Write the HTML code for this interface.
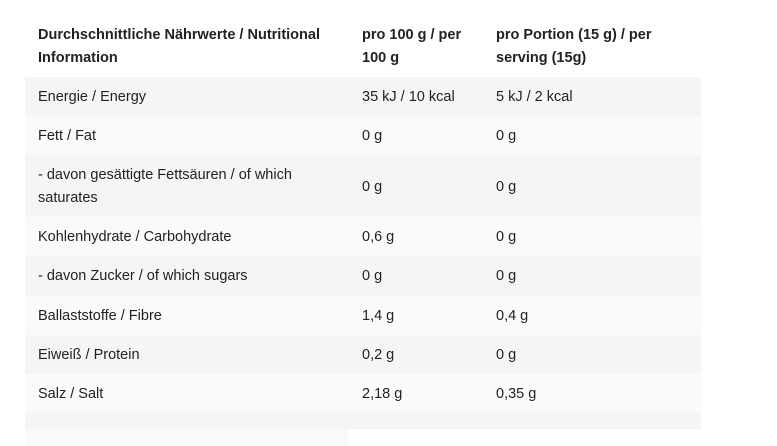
<!DOCTYPE html>
<html><head><meta charset="utf-8"><style>
body{margin:0;width:777px;height:446px;background:#fff;position:relative;overflow:hidden;font-family:"Liberation Sans","DejaVu Sans",sans-serif;font-size:14.5px;color:#222}
.r{position:absolute;left:25px;width:676px}
.t{position:absolute;line-height:23px;white-space:nowrap}
.h{font-weight:bold;font-size:14.5px}
</style></head><body>
<div class="t h" style="left:38px;top:24px">Durchschnittliche Nährwerte / Nutritional<br>Information</div>
<div class="t h" style="left:362px;top:24px">pro 100 g / per<br>100 g</div>
<div class="t h" style="left:496px;top:24px">pro Portion (15 g) / per<br>serving (15g)</div>

<div class="r" style="top:77px;height:39px;background:#f5f5f5"></div>
<div class="r" style="top:116px;height:39px;background:#fafafa"></div>
<div class="r" style="top:155px;height:62px;background:#f5f5f5"></div>
<div class="r" style="top:217px;height:39px;background:#fafafa"></div>
<div class="r" style="top:256px;height:39px;background:#f5f5f5"></div>
<div class="r" style="top:295px;height:40px;background:#fafafa"></div>
<div class="r" style="top:335px;height:39px;background:#f5f5f5"></div>
<div class="r" style="top:374px;height:39px;background:#fafafa"></div>
<div class="r" style="top:413px;height:16px;background:#f5f5f5"></div>
<div style="position:absolute;left:25px;top:429px;width:323px;height:17px;background:#fafafa"></div>

<div class="t" style="left:38px;top:86px">Energie / Energy</div><div class="t" style="left:362px;top:86px">35 kJ / 10 kcal</div><div class="t" style="left:496px;top:86px">5 kJ / 2 kcal</div>
<div class="t" style="left:38px;top:125px">Fett / Fat</div><div class="t" style="left:362px;top:125px">0 g</div><div class="t" style="left:496px;top:125px">0 g</div>
<div class="t" style="left:38px;top:164px">- davon gesättigte Fettsäuren / of which<br>saturates</div><div class="t" style="left:362px;top:176px">0 g</div><div class="t" style="left:496px;top:176px">0 g</div>
<div class="t" style="left:38px;top:226px">Kohlenhydrate / Carbohydrate</div><div class="t" style="left:362px;top:226px">0,6 g</div><div class="t" style="left:496px;top:226px">0 g</div>
<div class="t" style="left:38px;top:265px">- davon Zucker / of which sugars</div><div class="t" style="left:362px;top:265px">0 g</div><div class="t" style="left:496px;top:265px">0 g</div>
<div class="t" style="left:38px;top:305px">Ballaststoffe / Fibre</div><div class="t" style="left:362px;top:305px">1,4 g</div><div class="t" style="left:496px;top:305px">0,4 g</div>
<div class="t" style="left:38px;top:344px">Eiweiß / Protein</div><div class="t" style="left:362px;top:344px">0,2 g</div><div class="t" style="left:496px;top:344px">0 g</div>
<div class="t" style="left:38px;top:383px">Salz / Salt</div><div class="t" style="left:362px;top:383px">2,18 g</div><div class="t" style="left:496px;top:383px">0,35 g</div>
</body></html>
